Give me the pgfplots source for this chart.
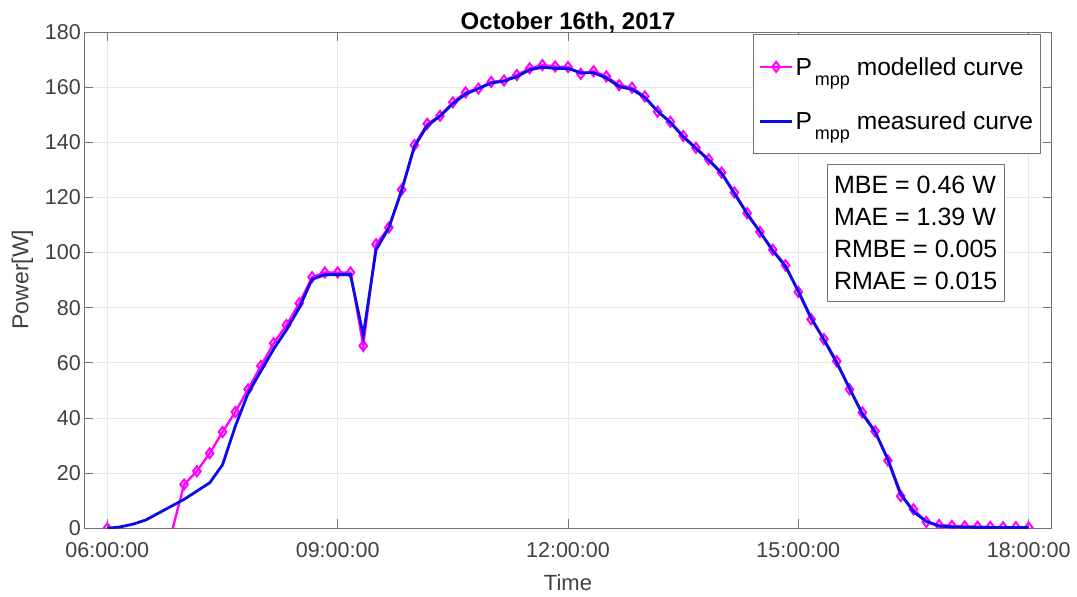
\documentclass[border=0pt]{standalone}
\usepackage{fontspec}
\setmainfont{Liberation Sans}
\usepackage{pgfplots}
\pgfplotsset{compat=1.18}
\usepackage{pgfplotstable}
\definecolor{mymag}{RGB}{255,0,255}
\definecolor{myblue}{RGB}{10,10,235}
\definecolor{tickgray}{RGB}{64,64,64}
\pgfplotstableread{
t P
360 0
370 nan
380 nan
390 nan
400 nan
410 -2
420 15.9
430 20.7
440 27.2
450 34.9
460 42.2
470 50.4
480 58.9
490 67.1
500 73.7
510 81.6
520 91.1
530 92.8
540 92.8
550 92.8
560 66.2
570 103.0
580 109.1
590 122.8
600 139.0
610 146.7
620 149.6
630 154.5
640 158.1
650 159.5
660 161.9
670 162.4
680 164.4
690 166.8
700 168.0
710 167.5
720 167.3
730 164.8
740 165.8
750 163.9
760 160.7
770 159.8
780 156.6
790 151.1
800 147.4
810 142.3
820 138.0
830 133.8
840 129.0
850 121.8
860 114.3
870 107.5
880 101.0
890 95.4
900 85.7
910 75.8
920 68.6
930 60.6
940 50.4
950 42.0
960 35.2
970 24.6
980 11.7
990 6.9
1000 2.3
1010 1.2
1020 0.9
1030 0.7
1040 0.6
1050 0.5
1060 0.4
1070 0.4
1080 0.3
}\modelled
\pgfplotstableread{
t P
360 0
370 0.5
380 1.5
390 3
400 5.5
410 8
420 10.5
430 13.5
440 16.5
450 23
460 37
470 49
480 57
490 65
500 72
510 80
520 90.3
530 92
540 92
550 92
560 70
570 101
580 109
590 122.5
600 138.5
610 146
620 149.5
630 154
640 157.5
650 159.5
660 161.5
670 162.2
680 163.8
690 166.3
700 167.2
710 166.8
720 166.8
730 165.2
740 165.2
750 163.3
760 160.2
770 159.2
780 156.3
790 151.3
800 147.2
810 142.0
820 137.8
830 133.5
840 128.8
850 121.5
860 114.0
870 107.5
880 100.7
890 95.0
900 86.0
910 76.3
920 68.4
930 60.0
940 50.8
950 41.5
960 35.0
970 25.0
980 12.5
990 6.0
1000 2.5
1010 0.8
1020 0.5
1030 0.4
1040 0.3
1050 0.3
1060 0.3
1070 0.3
1080 0.3
}\measured
\newcommand{\Pmpp}{P\kern3pt\raisebox{-10.6pt}{\fontsize{18}{18}\selectfont mpp}}
\begin{document}
\begin{tikzpicture}
\begin{axis}[
  scale only axis,
  width=967.4pt, height=496.3pt,
  xmin=342, xmax=1098, ymin=0, ymax=180,
  xtick={360,540,720,900,1080},
  xticklabels={06:00:00,09:00:00,12:00:00,15:00:00,18:00:00},
  ytick={0,20,...,180},
  /pgf/number format/assume math mode=true,
  tick align=inside,
  major tick length=9pt,
  tick style={black!55, line width=0.8pt},
  axis line style={black!55, line width=0.9pt},
  grid=major,
  grid style={black!9, line width=0.8pt},
  tick label style={font=\fontsize{21.5}{21.5}\selectfont, text=tickgray},
  xticklabel style={yshift=-10.5pt},
  xlabel={Time},
  ylabel={Power[W]},
  xlabel style={at={(axis description cs:0.5,-0.110)}, anchor=center, font=\fontsize{22}{22}\selectfont, text=tickgray},
  ylabel style={at={(axis description cs:-0.0639,0.5013)}, anchor=center, font=\fontsize{23}{23}\selectfont, text=tickgray},
  title={\textbf{October 16th, 2017}},
  title style={at={(axis description cs:0.5,1)}, anchor=base, yshift=-3.5pt, font=\fontsize{24}{24}\selectfont},
  unbounded coords=jump,
  clip marker paths=true,
  legend style={at={(axis description cs:0.6916,0.9954)}, anchor=north west,
    draw=black!55, line width=0.8pt, fill=white,
    font=\fontsize{24.6}{24.6}\selectfont,
    cells={anchor=west}, row sep=31pt, inner xsep=5pt, inner ysep=20.5pt},
  legend image code/.code={\draw[mark repeat=2,mark phase=2] plot coordinates {(0pt,0pt) (16pt,0pt) (32pt,0pt)};},
]
\addplot[mymag, line width=2.3pt, mark=diamond, mark size=5pt, mark options={line width=2pt}] table[x=t,y=P] {\modelled};
\addlegendentry{\Pmpp\ modelled curve}
\addplot[myblue, line width=2.8pt] table[x=t,y=P] {\measured};
\addlegendentry{\Pmpp\ measured curve}
\node[draw=black!55, line width=0.8pt, fill=white, align=left, anchor=north west,
  font=\fontsize{25}{32}\selectfont, inner xsep=7pt, inner ysep=11.5pt]
  at (rel axis cs:0.7674,0.7340) {MBE = 0.46 W\\MAE = 1.39 W\\RMBE = 0.005\\RMAE = 0.015};
\end{axis}
\path[use as bounding box] ([shift={(-84.3pt,-68.7pt)}]current axis.south west) rectangle ([shift={(25.3pt,32pt)}]current axis.north east);
\end{tikzpicture}
\end{document}
